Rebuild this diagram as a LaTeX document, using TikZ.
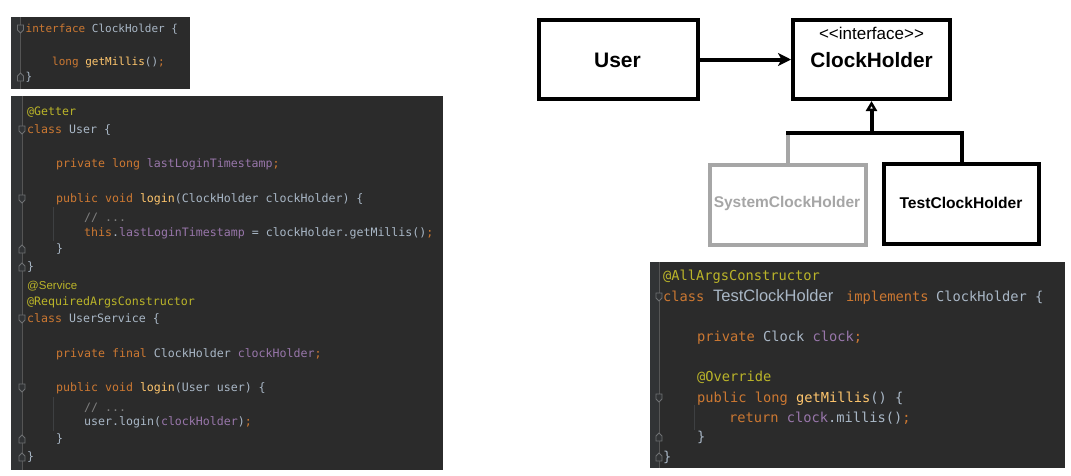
\documentclass[tikz,border=0pt]{standalone}
\usepackage{fontspec}
\setmainfont{Liberation Sans}
\newfontfamily\codefont{DejaVu Sans Mono}
\usetikzlibrary{arrows.meta}
\definecolor{codebg}{HTML}{2B2B2B}
\definecolor{gutbg}{HTML}{313335}
\definecolor{gutline}{HTML}{555555}
\definecolor{foldc}{HTML}{6E7072}
\definecolor{guide}{HTML}{3E4042}
\definecolor{ckwc}{HTML}{CC7832}
\definecolor{canc}{HTML}{BBB529}
\definecolor{cfnc}{HTML}{FFC66D}
\definecolor{cfdc}{HTML}{9876AA}
\definecolor{ctxc}{HTML}{A9B7C6}
\definecolor{ccmc}{HTML}{808080}
\definecolor{sysgray}{HTML}{A6A6A6}
\newcommand\ckw[1]{\textcolor{ckwc}{#1}}
\newcommand\cann[1]{\textcolor{canc}{#1}}
\newcommand\cfun[1]{\textcolor{cfnc}{#1}}
\newcommand\cfld[1]{\textcolor{cfdc}{#1}}
\newcommand\ccmt[1]{\textcolor{ccmc}{#1}}
\tikzset{
  codeA/.style={anchor=base west, inner sep=0pt, text=ctxc, font=\codefont\fontsize{11}{13}\selectfont},
  codeB/.style={anchor=base west, inner sep=0pt, text=ctxc, font=\codefont\fontsize{11.6}{14}\selectfont},
  codeC/.style={anchor=base west, inner sep=0pt, text=ctxc, font=\codefont\fontsize{13.7}{16}\selectfont},
  umlbox/.style={draw=black, line width=4pt, inner sep=0pt},
  umltext/.style={inner sep=0pt, text=black},
  conn/.style={line width=4pt},
  fold/.style={draw=foldc, fill=gutbg, line width=0.8pt},
  guideline/.style={draw=guide, line width=0.8pt},
}
\newcommand\foldopen[2]{\filldraw[fold] (#1-3,#2-4) -- (#1+3,#2-4) -- (#1+3,#2+1) -- (#1,#2+4) -- (#1-3,#2+1) -- cycle;}
\newcommand\foldclose[2]{\filldraw[fold] (#1-3,#2+4) -- (#1+3,#2+4) -- (#1+3,#2-1) -- (#1,#2-4) -- (#1-3,#2-1) -- cycle;}
\begin{document}
\begin{tikzpicture}[x=1pt,y=-1pt]
\useasboundingbox[fill=white] (0,0) rectangle (1071,475);

% ---------- panel 1 ----------
\fill[codebg] (11,17) rectangle (190,89);
\fill[gutbg] (11,17) rectangle (20.5,89);
\draw[gutline, line width=0.8pt] (20.5,17) -- (20.5,89);
\foldopen{20.5}{29}
\foldclose{20.5}{77}
\node[codeA] (p1a) at (25.5,32.5) {\ckw{interface} ClockHolder \{};
\node[codeA] (p1b) at (52,65.5) {\ckw{long} \cfun{getMillis}()\ckw{;}};
\node[codeA] (p1c) at (25.5,80.5) {\}};

% ---------- panel 2 ----------
\fill[codebg] (11,96) rectangle (443,470);
\fill[gutbg] (11,96) rectangle (22,470);
\draw[gutline, line width=0.8pt] (22,96) -- (22,470);
\draw[guideline] (53.5,207) -- (53.5,241);
\draw[guideline] (53.5,397) -- (53.5,431);
\foldopen{22}{130}
\foldopen{22}{199}
\foldclose{22}{249}
\foldclose{22}{267}
\foldopen{22}{319}
\foldopen{22}{388}
\foldclose{22}{439}
\foldclose{22}{457}
\node[codeB] (p2a) at (27,115.5) {\cann{@Getter}};
\node[codeB] (p2b) at (27,133.5) {\ckw{class} User \{};
\node[codeB] (p2c) at (56,167.5) {\ckw{private long} \cfld{lastLoginTimestamp}\ckw{;}};
\node[codeB] (p2d) at (56,202.5) {\ckw{public void} \cfun{login}(ClockHolder clockHolder) \{};
\node[codeB] (p2e) at (84,221.5) {\ccmt{// ...}};
\node[codeB] (p2f) at (84,236.5) {\ckw{this}.\cfld{lastLoginTimestamp} = clockHolder.getMillis()\ckw{;}};
\node[codeB] (p2g) at (56,252.5) {\}};
\node[codeB] (p2h) at (27,270.5) {\}};
\node[anchor=base west, inner sep=0pt, text=canc, font=\fontsize{11.5}{13}\selectfont] (p2i) at (27,289.5) {@Service};
\node[codeB] (p2j) at (27,305.5) {\cann{@RequiredArgsConstructor}};
\node[codeB] (p2k) at (27,322.5) {\ckw{class} UserService \{};
\node[codeB] (p2l) at (56,357.5) {\ckw{private final} ClockHolder \cfld{clockHolder}\ckw{;}};
\node[codeB] (p2m) at (56,391.5) {\ckw{public void} \cfun{login}(User user) \{};
\node[codeB] (p2n) at (84,411.5) {\ccmt{// ...}};
\node[codeB] (p2o) at (84,425.5) {user.login(\cfld{clockHolder})\ckw{;}};
\node[codeB] (p2p) at (56,442.5) {\}};
\node[codeB] (p2q) at (27,460.5) {\}};

% ---------- panel 3 ----------
\fill[codebg] (650,262) rectangle (1065,468);
\fill[gutbg] (650,262) rectangle (659,468);
\draw[gutline, line width=0.8pt] (659,262) -- (659,468);
\draw[guideline] (694.5,405) -- (694.5,430);
\foldopen{659}{297}
\foldopen{659}{398}
\foldclose{659}{437}
\foldclose{659}{457}
\node[codeC] (p3a) at (663,280.5) {\cann{@AllArgsConstructor}};
\node[codeC] (p3b) at (663,301.5) {\ckw{class}};
\node[anchor=base west, inner sep=0pt, text=ctxc, font=\fontsize{16.5}{18}\selectfont] (p3c) at (713,301.5) {TestClockHolder};
\node[codeC] (p3d) at (846,301.5) {\ckw{implements}};
\node[codeC] (p3e) at (936,301.5) {ClockHolder \{};
\node[codeC] (p3f) at (697,341.5) {\ckw{private} Clock \cfld{clock}\ckw{;}};
\node[codeC] (p3g) at (697,381.5) {\cann{@Override}};
\node[codeC] (p3h) at (697,402.5) {\ckw{public long} \cfun{getMillis}() \{};
\node[codeC] (p3i) at (729,422.5) {\ckw{return} \cfld{clock}.millis()\ckw{;}};
\node[codeC] (p3j) at (697,441.5) {\}};
\node[codeC] (p3k) at (663,461.5) {\}};

% ---------- UML diagram ----------
\node[umlbox, minimum width=159pt, minimum height=79pt] (user) at (618.5,59.5) {};
\node[umltext, font=\bfseries\fontsize{21}{23}\selectfont] (userlbl) at (617.5,60) {User};
\node[umlbox, minimum width=157pt, minimum height=79pt] (ch) at (871.5,59.5) {};
\node[umltext, font=\fontsize{17}{19}\selectfont] (chst) at (871.5,33.5) {{<}{<}interface{>}{>}};
\node[umltext, font=\bfseries\fontsize{20.8}{23}\selectfont] (chlbl) at (871.5,60) {ClockHolder};
\node[umlbox, draw=sysgray, minimum width=156pt, minimum height=80pt] (sys) at (788,204.5) {};
\node[umltext, text=sysgray, font=\bfseries\fontsize{15.5}{17}\selectfont] (syslbl) at (787,203) {SystemClockHolder};
\node[umlbox, minimum width=155pt, minimum height=80pt] (tch) at (961.5,204) {};
\node[umltext, font=\bfseries\fontsize{15.6}{17}\selectfont] (tchlbl) at (961,203) {TestClockHolder};

\coordinate (j) at (871.5,132.5);
\draw[conn, -{Stealth[length=13pt, width=13pt, inset=3.5pt]}] (user.east) -- (ch.west);
\draw[conn, draw=sysgray] (sys.north) -- (sys.north |- j);
\draw[conn, line cap=rect] (sys.north |- j) -| (tch.north);
\draw[conn, -{Triangle[open, length=10pt, width=11pt, line width=2.6pt]}] (j) -- (ch.south);
\end{tikzpicture}
\end{document}
